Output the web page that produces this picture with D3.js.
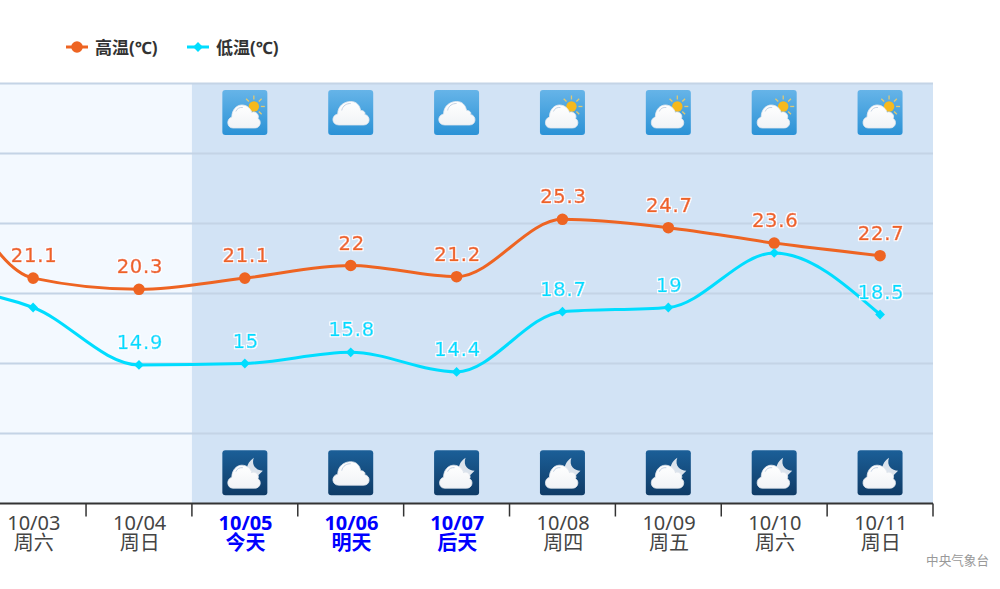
<!DOCTYPE html>
<html><head><meta charset="utf-8">
<script src="https://cdnjs.cloudflare.com/ajax/libs/d3/7.8.5/d3.min.js"></script>
<style>html,body{margin:0;padding:0;background:#fff;overflow:hidden}svg{display:block}
text{font-family:"Noto Sans","Noto Sans CJK SC",sans-serif}</style></head><body>
<svg id="c" width="1000" height="589"></svg>
<script>
const dates=["10/02","10/03","10/04","10/05","10/06","10/07","10/08","10/09","10/10","10/11"];
const days=["周五","周六","周日","今天","明天","后天","周四","周五","周六","周日"];
const highlighted=["10/05","10/06","10/07"];
const highs=[32,21.1,20.3,21.1,22,21.2,25.3,24.7,23.6,22.7];
const lows=[20.6,19,14.9,15,15.8,14.4,18.7,19,22.9,18.5];
const showHighLabel=[false,true,true,true,true,true,true,true,true,true];
const showLowLabel=[false,false,true,true,true,true,true,true,false,true];
const dayIcons=[null,null,null,"partly","cloudy","cloudy","partly","partly","partly","partly"];
const nightIcons=[null,null,null,"partly","cloudy","partly","partly","partly","partly","partly"];
const seriesNames=["高温(℃)","低温(℃)"];
const gridTicks=[5,10,15,20,25,30,35];
const hi="#ee6422",lo="#00ddff";

const svg=d3.select("#c");
const x=d3.scaleBand().domain(dates).range([-125.7,933]);
const y=d3.scaleLinear().domain([5,35]).range([503.5,83.5]);
const cx=d=>x(d)+x.bandwidth()/2;
const todayStart=x("10/05");

const defs=svg.append("defs");
function grad(id,a,b){const g=defs.append("linearGradient").attr("id",id).attr("x1",0).attr("x2",0).attr("y1",0).attr("y2",1);
 g.append("stop").attr("offset",0).attr("stop-color",a);g.append("stop").attr("offset",1).attr("stop-color",b);}
grad("dayBg","#66b4e8","#2b92d6");grad("nightBg","#1b5f98","#0f3b66");
grad("cloudFill","#ffffff","#f1f3f6");
const halo=defs.append("filter").attr("id","halo").attr("x","-20%").attr("y","-30%").attr("width","140%").attr("height","160%");
halo.append("feMorphology").attr("in","SourceAlpha").attr("operator","dilate").attr("radius",1.3).attr("result","d");
halo.append("feFlood").attr("flood-color","#fff").attr("result","w");
halo.append("feComposite").attr("in","w").attr("in2","d").attr("operator","in").attr("result","h");
const hm=halo.append("feMerge");hm.append("feMergeNode").attr("in","h");hm.append("feMergeNode").attr("in","SourceGraphic");

svg.append("rect").attr("x",x.range()[0]).attr("width",todayStart-x.range()[0]).attr("y",y(35)).attr("height",y(5)-y(35)).attr("fill","#f3f9ff");
svg.append("rect").attr("x",todayStart).attr("width",x.range()[1]-todayStart).attr("y",y(35)).attr("height",y(5)-y(35)).attr("fill","#d2e3f5");

svg.append("g").selectAll("line").data(gridTicks.filter(t=>t>5)).join("line")
 .attr("x1",x.range()[0]).attr("x2",x.range()[1]).attr("y1",d=>y(d)).attr("y2",d=>y(d))
 .attr("stroke","#c4d4e6").attr("stroke-width",2);

// weather icons: cloud outlines are glyph shapes in a 45x45 box centred on (0,0)
const smallCloud="M-12,15.5 C-18,15.5 -19,6.5 -13,4.5 C-13,-3 -8,-7.5 -3,-7.5 C2,-7.5 6,-4 7,0 C11,-2 15,3 13,6 C17,8 16,15.5 10,15.5 Z";
const bigCloud="M-12,12.5 C-19,12.5 -20,3 -13,1.5 C-13,-7 -6,-11 0,-11 C6,-11 9,-7 10,-2 C13,-2 15,0 14,2 C20,3 20,12.5 13,12.5 Z";
function icon(g,kind,night){
 g.append("rect").attr("x",-22.5).attr("y",-22.5).attr("width",45).attr("height",45).attr("rx",3)
  .attr("fill",night?"url(#nightBg)":"url(#dayBg)");
 if(kind==="partly"){
  if(night){
   g.append("path").attr("d","M9,-15 C3,-11 1,-5 3,-2 L13,3 L18,-2 C12,-2 6,-7 9,-15 Z").attr("fill","#dbe3ec");
  } else {
   g.append("g").attr("stroke","#e0c873").attr("stroke-width",1.3).selectAll("line")
    .data(d3.range(8)).join("line")
    .attr("x1",d=>9+Math.cos(d*Math.PI/4)*7).attr("y1",d=>-6+Math.sin(d*Math.PI/4)*7)
    .attr("x2",d=>9+Math.cos(d*Math.PI/4)*11).attr("y2",d=>-6+Math.sin(d*Math.PI/4)*11);
   g.append("circle").attr("cx",9).attr("cy",-6).attr("r",5.2).attr("fill","#f6b91d");
  }
  g.append("path").attr("d",smallCloud).attr("fill","url(#cloudFill)").attr("stroke","#e4e9ef").attr("stroke-width",.8);
  g.append("path").attr("d","M-9,-1 C-8,-4 -5,-5.5 -2,-5").attr("fill","none").attr("stroke","#c5d2e4").attr("stroke-width",1);
 } else {
  g.append("path").attr("d",bigCloud).attr("fill","url(#cloudFill)").attr("stroke","#e4e9ef").attr("stroke-width",.8);
  g.append("path").attr("d","M-9,-2 C-8,-7 -4,-9 0,-9").attr("fill","none").attr("stroke","#c5d2e4").attr("stroke-width",1);
 }
}
dates.forEach((d,i)=>{
 if(dayIcons[i]) icon(svg.append("g").attr("transform",`translate(${cx(d)},${y(32.93)})`),dayIcons[i],false);
 if(nightIcons[i]) icon(svg.append("g").attr("transform",`translate(${cx(d)},${y(7.2)})`),nightIcons[i],true);
});

const axis=svg.append("g").attr("transform",`translate(0,${y(5)})`);
axis.append("line").attr("x1",x.range()[0]).attr("x2",x.range()[1]).attr("stroke","#333").attr("stroke-width",2);
axis.selectAll("line.t").data(dates).join("line").attr("class","t")
 .attr("x1",d=>x(d)+x.bandwidth()).attr("x2",d=>x(d)+x.bandwidth()).attr("y1",0).attr("y2",13).attr("stroke","#333").attr("stroke-width",1.5);
const isH=d=>highlighted.includes(d);
const lab=axis.selectAll("text.l").data(dates.slice(1)).join("text").attr("class","l")
 .attr("text-anchor","middle").attr("fill",d=>isH(d)?"#0000ff":"#444").attr("font-weight",d=>isH(d)?700:400);
lab.append("tspan").attr("x",d=>cx(d)+.7).attr("y",26).attr("font-size",20).text(d=>d);
lab.append("tspan").attr("x",d=>cx(d)+.7).attr("y",46.5).attr("font-size",20).text(d=>days[dates.indexOf(d)]);

const line=d3.line().x((v,i)=>cx(dates[i])).y(v=>y(v)).curve(d3.curveMonotoneX);
const diamond=s=>d3.symbol().type(d3.symbolSquare).size(s)();
function series(vals,color,isDiamond,show){
 svg.append("path").attr("d",line(vals)).attr("fill","none").attr("stroke",color).attr("stroke-width",3);
 svg.append("g").selectAll("path").data(vals).join("path")
  .attr("d",isDiamond?diamond(48):d3.symbol().type(d3.symbolCircle).size(105)())
  .attr("fill",color)
  .attr("transform",(v,i)=>`translate(${cx(dates[i])},${y(v)})${isDiamond?" rotate(45)":""}`);
 const items=vals.map((v,i)=>({v,d:dates[i]})).filter((o,i)=>show[i]);
 svg.append("g").attr("filter","url(#halo)").selectAll("text").data(items).join("text")
  .attr("x",o=>cx(o.d)+1).attr("y",o=>y(o.v)-16)
  .attr("text-anchor","middle").attr("font-size",19.5).attr("letter-spacing",.8)
  .style("font-family","'DejaVu Sans',sans-serif")
  .attr("fill",color).attr("stroke",color).attr("stroke-width",.55)
  .text(o=>o.v);
}
series(highs,hi,false,showHighLabel);
series(lows,lo,true,showLowLabel);

const lx=[66,187];
const legend=svg.append("g").selectAll("g").data(seriesNames).join("g").attr("transform",(d,i)=>`translate(${lx[i]},47)`);
legend.append("line").attr("x2",22).attr("stroke",(d,i)=>i?lo:hi).attr("stroke-width",3);
legend.append("path")
 .attr("transform",(d,i)=>`translate(11,0)${i?" rotate(45)":""}`)
 .attr("d",(d,i)=>i?diamond(48):d3.symbol().type(d3.symbolCircle).size(105)())
 .attr("fill",(d,i)=>i?lo:hi);
legend.append("text").attr("x",29).attr("y",6.5).attr("font-size",17).attr("font-weight",700).attr("fill","#333").text(d=>d);

svg.append("text").attr("x",989).attr("y",565).attr("text-anchor","end").attr("font-size",12.6).attr("fill","#999").text("中央气象台");
</script></body></html>
